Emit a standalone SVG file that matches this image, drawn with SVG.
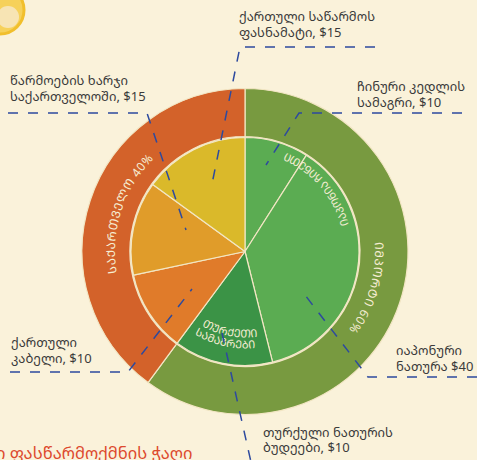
<svg xmlns="http://www.w3.org/2000/svg" width="477" height="460" viewBox="0 0 477 460">
<style>
.lbl{font-family:"Noto Sans Georgian","Noto Sans","DejaVu Sans",sans-serif;font-size:13px;fill:#3b3b3b}
.ring{font-family:"Noto Sans Georgian","Noto Sans","DejaVu Sans",sans-serif;font-size:12px;fill:#f6edd3;letter-spacing:0.6px}
.inner{font-family:"Noto Sans Georgian","Noto Sans","DejaVu Sans",sans-serif;font-size:11px;fill:#f3ecd2}
.sl{stroke:#f2e6c4;stroke-width:1.2;stroke-linejoin:round}
.con{fill:none;stroke:#2d4a9e;stroke-width:1.5;stroke-dasharray:10 10}
</style>
<defs>
<path id="cw130" d="M245,121.5 A130,130 0 1 1 245,381.5 A130,130 0 1 1 245,121.5"/>
<path id="ccw107" d="M245,144.5 A107,107 0 1 0 245,358.5 A107,107 0 1 0 245,144.5"/>
<path id="ccw86" d="M245,165.5 A86,86 0 1 0 245,337.5 A86,86 0 1 0 245,165.5"/>
<path id="ccw97" d="M245,154.5 A97,97 0 1 0 245,348.5 A97,97 0 1 0 245,154.5"/>
</defs>
<rect width="477" height="460" fill="#faf2da"/>
<g id="sun">
<circle cx="0" cy="10" r="24" fill="#f6d15a" stroke="#f1bf2c" stroke-width="3"/>
<circle cx="8" cy="17" r="11" fill="#f7e4b4"/>
</g>
<g id="outer-ring">
<path id="ring-import" class="sl" fill="#789a40" d="M245,88.5 A163,163 0 1 1 148.05,382.54 L176.6,343.95 A115,115 0 1 0 245,136.5 Z"/>
<path id="ring-georgia" class="sl" fill="#d3622a" d="M148.05,382.54 A163,163 0 0 1 245,88.5 L245,136.5 A115,115 0 0 0 176.6,343.95 Z"/>
<text class="ring"><textPath href="#cw130" startOffset="80%" text-anchor="middle">ᲡᲐᲥᲐᲠᲗᲕᲔᲚᲝ 40%</textPath></text>
<text class="ring"><textPath href="#cw130" startOffset="29.6%" text-anchor="middle">ᲘᲛᲞᲝᲠᲢᲘ 60%</textPath></text>
</g>
<g id="pie">
<path id="s-china" class="sl" fill="#5bac52" d="M245,251.5 L245,137.5 A114,114 0 0 1 306.25,155.35 Z"/>
<path id="s-japan" class="sl" fill="#5bac52" d="M245,251.5 L306.25,155.35 A114,114 0 0 1 272.58,362.11 Z"/>
<path id="s-turkey" class="sl" fill="#3b9346" d="M245,251.5 L272.58,362.11 A114,114 0 0 1 177.19,343.14 Z"/>
<path id="s-cable" class="sl" fill="#e07b2a" d="M245,251.5 L177.19,343.14 A114,114 0 0 1 133.49,275.2 Z"/>
<path id="s-production" class="sl" fill="#e09c2a" d="M245,251.5 L133.49,275.2 A114,114 0 0 1 152.77,184.49 Z"/>
<path id="s-markup" class="sl" fill="#dab92a" d="M245,251.5 L152.77,184.49 A114,114 0 0 1 245,137.5 Z"/>
<text class="inner"><textPath href="#ccw107" startOffset="86.4%" text-anchor="middle">ᲘᲐᲞᲝᲜᲘᲐ ᲩᲘᲜᲔᲗᲘ</textPath></text>
<text class="inner"><textPath href="#ccw86" startOffset="47%" text-anchor="middle">ᲗᲣᲠᲥᲔᲗᲘ</textPath></text>
<text class="inner"><textPath href="#ccw97" startOffset="46.5%" text-anchor="middle">ᲡᲐᲛᲐᲒᲠᲔᲑᲘ</textPath></text>
</g>
<g id="connectors">
<path class="con" d="M375,47 L240,47 L212,184"/>
<path class="con" d="M8,113 L147,113 L186,230"/>
<path class="con" d="M462,113 L299,113 L266,165"/>
<path class="con" d="M477,377 L368,377 L305,295"/>
<path class="con" d="M222,333 L251,462"/>
<path class="con" d="M10,372 L128,372 L192,289"/>
</g>
<g id="label-markup"><text class="lbl" x="239" y="21">ქართული საწარმოს</text><text class="lbl" x="239" y="37">ფასნამატი, $15</text></g>
<g id="label-production"><text class="lbl" x="10" y="85">წარმოების ხარჯი</text><text class="lbl" x="10" y="101">საქართველოში, $15</text></g>
<g id="label-china"><text class="lbl" x="357" y="91">ჩინური კედლის</text><text class="lbl" x="357" y="107">სამაგრი, $10</text></g>
<g id="label-japan"><text class="lbl" x="396" y="355">იაპონური</text><text class="lbl" x="396" y="371">ნათურა $40</text></g>
<g id="label-turkey"><text class="lbl" x="263" y="437">თურქული ნათურის</text><text class="lbl" x="263" y="452">ბუდეები, $10</text></g>
<g id="label-cable"><text class="lbl" x="11" y="347">ქართული</text><text class="lbl" x="11" y="363">კაბელი, $10</text></g>
<text x="-4" y="459" font-family="'Noto Sans Georgian','Noto Sans','DejaVu Sans',sans-serif" font-size="16.5" fill="#dd4a2e">ი ფასწარმოქმნის ჭაღი</text>
</svg>
